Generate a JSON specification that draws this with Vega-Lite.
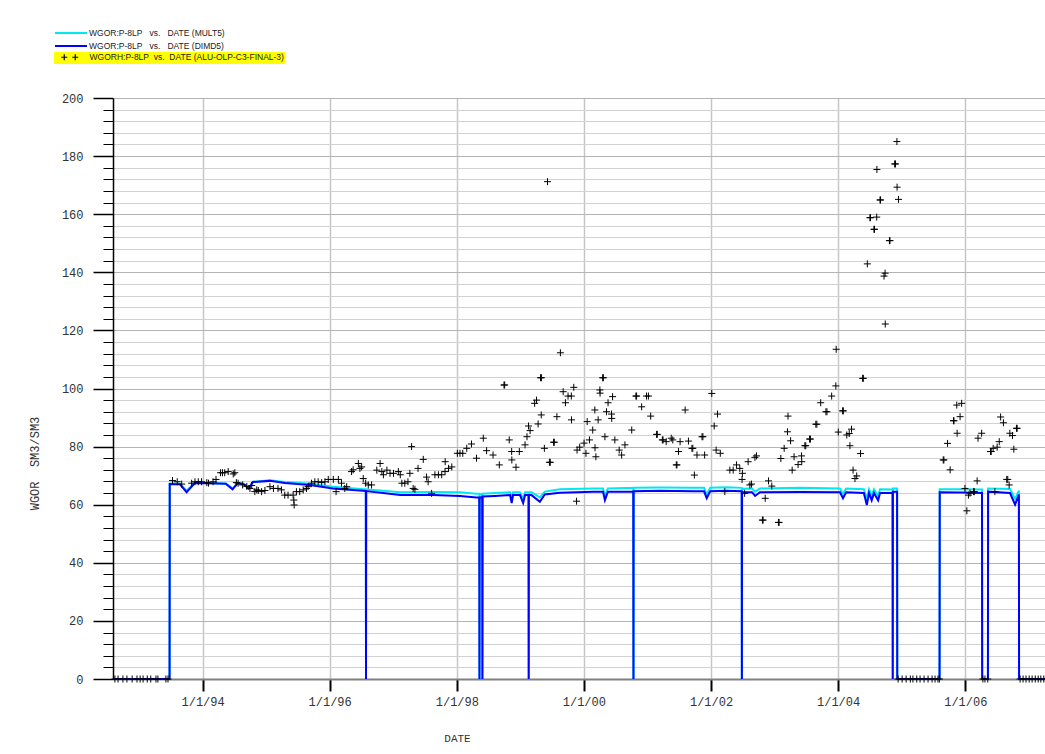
{
"$schema": "https://vega.github.io/schema/vega-lite/v6.json",
"autosize": "none",
"width": 932,
"height": 581,
"padding": {"left": 113, "top": 98, "right": 0, "bottom": 75},
"background": "white",
"config": {"view": {"stroke": null}, "font": "Liberation Sans"},
"datasets": {
"lines": [
{"date":"1992-08-04","series":"MULT5","value":0},{"date":"1993-06-25","series":"MULT5","value":0},{"date":"1993-06-26","series":"MULT5","value":67.3},{"date":"1993-08-24","series":"MULT5","value":67.2},{"date":"1993-10-01","series":"MULT5","value":64.8},{"date":"1993-11-18","series":"MULT5","value":67.6},{"date":"1994-05-14","series":"MULT5","value":67.3},{"date":"1994-06-22","series":"MULT5","value":65.6},{"date":"1994-07-22","series":"MULT5","value":67.5},{"date":"1994-08-26","series":"MULT5","value":67.2},{"date":"1994-09-23","series":"MULT5","value":65.8},{"date":"1994-10-17","series":"MULT5","value":67.9},{"date":"1995-01-23","series":"MULT5","value":68.4},{"date":"1995-04-18","series":"MULT5","value":67.8},{"date":"1995-09-10","series":"MULT5","value":67.2},{"date":"1996-01-20","series":"MULT5","value":66.2},{"date":"1996-07-27","series":"MULT5","value":65.3},{"date":"1996-07-28","series":"MULT5","value":0},{"date":"1996-07-29","series":"MULT5","value":65.3},{"date":"1997-02-10","series":"MULT5","value":64.3},{"date":"1997-08-17","series":"MULT5","value":64.4},{"date":"1998-01-20","series":"MULT5","value":64.3},{"date":"1998-04-24","series":"MULT5","value":63.8},{"date":"1998-05-10","series":"MULT5","value":63.8},{"date":"1998-05-11","series":"MULT5","value":0},{"date":"1998-05-12","series":"MULT5","value":63.6},{"date":"1998-05-27","series":"MULT5","value":63.6},{"date":"1998-05-28","series":"MULT5","value":0},{"date":"1998-05-29","series":"MULT5","value":63.8},{"date":"1998-08-08","series":"MULT5","value":64.0},{"date":"1998-11-03","series":"MULT5","value":64.3},{"date":"1998-11-12","series":"MULT5","value":62.0},{"date":"1998-11-20","series":"MULT5","value":64.3},{"date":"1998-12-30","series":"MULT5","value":64.3},{"date":"1999-01-17","series":"MULT5","value":62.0},{"date":"1999-01-28","series":"MULT5","value":64.3},{"date":"1999-02-17","series":"MULT5","value":64.3},{"date":"1999-02-18","series":"MULT5","value":0},{"date":"1999-02-19","series":"MULT5","value":64.3},{"date":"1999-03-06","series":"MULT5","value":64.3},{"date":"1999-04-23","series":"MULT5","value":62.5},{"date":"1999-05-21","series":"MULT5","value":64.5},{"date":"1999-08-16","series":"MULT5","value":65.3},{"date":"2000-02-23","series":"MULT5","value":65.6},{"date":"2000-04-20","series":"MULT5","value":65.6},{"date":"2000-05-01","series":"MULT5","value":63.0},{"date":"2000-05-18","series":"MULT5","value":65.6},{"date":"2000-10-11","series":"MULT5","value":65.8},{"date":"2000-10-12","series":"MULT5","value":0},{"date":"2000-10-13","series":"MULT5","value":65.8},{"date":"2001-03-13","series":"MULT5","value":65.9},{"date":"2001-09-20","series":"MULT5","value":65.8},{"date":"2001-11-22","series":"MULT5","value":65.8},{"date":"2001-12-07","series":"MULT5","value":63.5},{"date":"2001-12-27","series":"MULT5","value":65.8},{"date":"2002-03-30","series":"MULT5","value":66.0},{"date":"2002-06-26","series":"MULT5","value":65.8},{"date":"2002-06-27","series":"MULT5","value":0},{"date":"2002-06-28","series":"MULT5","value":65.5},{"date":"2002-08-24","series":"MULT5","value":65.6},{"date":"2002-09-11","series":"MULT5","value":64.5},{"date":"2002-10-09","series":"MULT5","value":65.6},{"date":"2003-05-26","series":"MULT5","value":65.8},{"date":"2004-01-12","series":"MULT5","value":65.6},{"date":"2004-01-29","series":"MULT5","value":63.8},{"date":"2004-02-16","series":"MULT5","value":65.6},{"date":"2004-05-28","series":"MULT5","value":65.3},{"date":"2004-06-14","series":"MULT5","value":62.0},{"date":"2004-06-27","series":"MULT5","value":65.3},{"date":"2004-07-12","series":"MULT5","value":63.0},{"date":"2004-07-25","series":"MULT5","value":65.3},{"date":"2004-08-18","series":"MULT5","value":63.0},{"date":"2004-08-29","series":"MULT5","value":65.3},{"date":"2004-11-09","series":"MULT5","value":65.2},{"date":"2004-11-10","series":"MULT5","value":0},{"date":"2004-11-11","series":"MULT5","value":65.6},{"date":"2004-12-05","series":"MULT5","value":65.6},{"date":"2004-12-06","series":"MULT5","value":0},{"date":"2005-08-06","series":"MULT5","value":0},{"date":"2005-08-07","series":"MULT5","value":65.3},{"date":"2005-12-02","series":"MULT5","value":65.3},{"date":"2006-04-07","series":"MULT5","value":65.2},{"date":"2006-04-08","series":"MULT5","value":0},{"date":"2006-05-11","series":"MULT5","value":0},{"date":"2006-05-12","series":"MULT5","value":65.6},{"date":"2006-09-15","series":"MULT5","value":65.4},{"date":"2006-10-14","series":"MULT5","value":62.0},{"date":"2006-11-05","series":"MULT5","value":64.8},{"date":"2006-11-06","series":"MULT5","value":0},{"date":"2007-04-04","series":"MULT5","value":0},
{"date":"1992-08-04","series":"DIMD5","value":0},{"date":"1993-06-25","series":"DIMD5","value":0},{"date":"1993-06-26","series":"DIMD5","value":67.1},{"date":"1993-08-24","series":"DIMD5","value":67.0},{"date":"1993-10-01","series":"DIMD5","value":64.3},{"date":"1993-11-18","series":"DIMD5","value":67.5},{"date":"1994-05-14","series":"DIMD5","value":67.2},{"date":"1994-06-22","series":"DIMD5","value":65.3},{"date":"1994-07-22","series":"DIMD5","value":67.4},{"date":"1994-08-26","series":"DIMD5","value":67.0},{"date":"1994-09-23","series":"DIMD5","value":65.5},{"date":"1994-10-17","series":"DIMD5","value":67.8},{"date":"1995-01-23","series":"DIMD5","value":68.2},{"date":"1995-04-18","series":"DIMD5","value":67.5},{"date":"1995-09-10","series":"DIMD5","value":66.8},{"date":"1996-01-20","series":"DIMD5","value":65.6},{"date":"1996-07-27","series":"DIMD5","value":64.7},{"date":"1996-07-28","series":"DIMD5","value":0},{"date":"1996-07-29","series":"DIMD5","value":64.7},{"date":"1997-02-10","series":"DIMD5","value":63.3},{"date":"1997-08-17","series":"DIMD5","value":63.3},{"date":"1998-01-20","series":"DIMD5","value":63.0},{"date":"1998-04-24","series":"DIMD5","value":62.5},{"date":"1998-05-10","series":"DIMD5","value":62.5},{"date":"1998-05-11","series":"DIMD5","value":0},{"date":"1998-05-12","series":"DIMD5","value":62.5},{"date":"1998-05-27","series":"DIMD5","value":62.6},{"date":"1998-05-28","series":"DIMD5","value":0},{"date":"1998-05-29","series":"DIMD5","value":62.8},{"date":"1998-08-08","series":"DIMD5","value":63.0},{"date":"1998-11-03","series":"DIMD5","value":63.3},{"date":"1998-11-12","series":"DIMD5","value":60.6},{"date":"1998-11-20","series":"DIMD5","value":63.3},{"date":"1998-12-30","series":"DIMD5","value":63.3},{"date":"1999-01-17","series":"DIMD5","value":60.6},{"date":"1999-01-28","series":"DIMD5","value":63.3},{"date":"1999-02-17","series":"DIMD5","value":63.3},{"date":"1999-02-18","series":"DIMD5","value":0},{"date":"1999-02-19","series":"DIMD5","value":63.3},{"date":"1999-03-06","series":"DIMD5","value":63.3},{"date":"1999-04-23","series":"DIMD5","value":61.0},{"date":"1999-05-21","series":"DIMD5","value":63.5},{"date":"1999-08-16","series":"DIMD5","value":64.1},{"date":"2000-02-23","series":"DIMD5","value":64.5},{"date":"2000-04-20","series":"DIMD5","value":64.5},{"date":"2000-05-01","series":"DIMD5","value":61.6},{"date":"2000-05-18","series":"DIMD5","value":64.5},{"date":"2000-10-11","series":"DIMD5","value":64.5},{"date":"2000-10-12","series":"DIMD5","value":0},{"date":"2000-10-13","series":"DIMD5","value":64.6},{"date":"2001-03-13","series":"DIMD5","value":64.8},{"date":"2001-09-20","series":"DIMD5","value":64.6},{"date":"2001-11-22","series":"DIMD5","value":64.6},{"date":"2001-12-07","series":"DIMD5","value":62.2},{"date":"2001-12-27","series":"DIMD5","value":64.6},{"date":"2002-03-30","series":"DIMD5","value":64.8},{"date":"2002-06-26","series":"DIMD5","value":64.6},{"date":"2002-06-27","series":"DIMD5","value":0},{"date":"2002-06-28","series":"DIMD5","value":64.3},{"date":"2002-08-24","series":"DIMD5","value":64.3},{"date":"2002-09-11","series":"DIMD5","value":63.0},{"date":"2002-10-09","series":"DIMD5","value":64.3},{"date":"2003-05-26","series":"DIMD5","value":64.4},{"date":"2004-01-12","series":"DIMD5","value":64.3},{"date":"2004-01-29","series":"DIMD5","value":62.2},{"date":"2004-02-16","series":"DIMD5","value":64.3},{"date":"2004-05-28","series":"DIMD5","value":64.0},{"date":"2004-06-14","series":"DIMD5","value":59.9},{"date":"2004-06-27","series":"DIMD5","value":64.0},{"date":"2004-07-12","series":"DIMD5","value":61.5},{"date":"2004-07-25","series":"DIMD5","value":64.0},{"date":"2004-08-18","series":"DIMD5","value":61.5},{"date":"2004-08-29","series":"DIMD5","value":64.0},{"date":"2004-11-09","series":"DIMD5","value":64.0},{"date":"2004-11-10","series":"DIMD5","value":0},{"date":"2004-11-11","series":"DIMD5","value":64.5},{"date":"2004-12-05","series":"DIMD5","value":64.5},{"date":"2004-12-06","series":"DIMD5","value":0},{"date":"2005-08-06","series":"DIMD5","value":0},{"date":"2005-08-07","series":"DIMD5","value":64.3},{"date":"2005-12-02","series":"DIMD5","value":64.2},{"date":"2006-04-07","series":"DIMD5","value":64.0},{"date":"2006-04-08","series":"DIMD5","value":0},{"date":"2006-05-11","series":"DIMD5","value":0},{"date":"2006-05-12","series":"DIMD5","value":64.5},{"date":"2006-09-15","series":"DIMD5","value":64.0},{"date":"2006-10-14","series":"DIMD5","value":60.0},{"date":"2006-11-05","series":"DIMD5","value":63.5},{"date":"2006-11-06","series":"DIMD5","value":0},{"date":"2007-04-04","series":"DIMD5","value":0}
],
"hist": [
{"date":"1992-08-15","value":0},{"date":"1992-09-02","value":0},{"date":"1992-09-30","value":0},{"date":"1992-10-23","value":0},{"date":"1992-11-22","value":0},{"date":"1992-12-20","value":0},{"date":"1993-01-07","value":0},{"date":"1993-01-24","value":0},{"date":"1993-02-17","value":0},{"date":"1993-03-09","value":0},{"date":"1993-04-08","value":0},{"date":"1993-04-19","value":0},{"date":"1993-06-04","value":0},{"date":"1993-06-16","value":0},
{"date":"1993-07-12","value":68.3},{"date":"1993-08-08","value":67.9},{"date":"1993-09-03","value":67.1},{"date":"1993-10-30","value":67.4},{"date":"1993-11-18","value":67.9},{"date":"1993-12-07","value":67.9},{"date":"1993-12-26","value":67.9},
{"date":"1994-01-25","value":67.6},{"date":"1994-02-04","value":67.4},{"date":"1994-03-02","value":67.9},{"date":"1994-03-19","value":68.7},{"date":"1994-04-14","value":71.0},{"date":"1994-04-25","value":71.0},{"date":"1994-05-08","value":71.0},{"date":"1994-05-28","value":71.4},{"date":"1994-06-26","value":70.6},{"date":"1994-07-05","value":71.0},{"date":"1994-07-14","value":67.6},{"date":"1994-07-24","value":67.4},{"date":"1994-08-19","value":66.8},{"date":"1994-09-12","value":66.3},{"date":"1994-09-30","value":65.6},{"date":"1994-10-10","value":66.6},{"date":"1994-10-28","value":64.5},{"date":"1994-11-08","value":65.1},{"date":"1994-11-17","value":64.9},{"date":"1994-12-06","value":64.5},{"date":"1994-12-25","value":64.9},
{"date":"1995-01-23","value":66.2},{"date":"1995-02-12","value":65.6},{"date":"1995-03-10","value":65.6},{"date":"1995-03-30","value":65.1},{"date":"1995-04-18","value":63.3},{"date":"1995-05-07","value":63.3},{"date":"1995-06-05","value":63.3},{"date":"1995-06-09","value":61.6},{"date":"1995-06-11","value":59.9},{"date":"1995-06-24","value":64.5},{"date":"1995-07-13","value":64.5},{"date":"1995-08-02","value":65.1},{"date":"1995-08-21","value":65.6},{"date":"1995-08-30","value":66.2},{"date":"1995-09-19","value":67.4},{"date":"1995-10-08","value":67.9},{"date":"1995-10-27","value":67.9},{"date":"1995-11-16","value":67.6},{"date":"1995-12-05","value":67.9},{"date":"1995-12-24","value":68.7},
{"date":"1996-01-22","value":68.7},{"date":"1996-02-07","value":64.5},{"date":"1996-02-20","value":68.7},{"date":"1996-03-09","value":67.4},{"date":"1996-03-28","value":65.6},{"date":"1996-04-08","value":66.2},{"date":"1996-05-06","value":71.4},{"date":"1996-05-15","value":72.0},{"date":"1996-06-14","value":74.2},{"date":"1996-06-23","value":72.5},{"date":"1996-07-03","value":73.0},{"date":"1996-07-12","value":69.0},{"date":"1996-07-26","value":67.4},{"date":"1996-08-10","value":66.8},{"date":"1996-08-29","value":66.8},{"date":"1996-09-28","value":71.9},{"date":"1996-10-17","value":74.2},{"date":"1996-10-27","value":71.4},{"date":"1996-11-05","value":70.3},{"date":"1996-11-25","value":71.9},{"date":"1996-12-13","value":70.8},
{"date":"1997-01-02","value":70.8},{"date":"1997-01-30","value":71.4},{"date":"1997-02-10","value":70.3},{"date":"1997-02-19","value":67.4},{"date":"1997-03-08","value":67.4},{"date":"1997-03-26","value":67.9},{"date":"1997-04-06","value":70.8},{"date":"1997-04-16","value":80.0},{"date":"1997-04-25","value":65.6},{"date":"1997-05-05","value":65.3},{"date":"1997-05-23","value":72.5},{"date":"1997-06-22","value":75.6},{"date":"1997-07-11","value":69.5},{"date":"1997-07-20","value":67.9},{"date":"1997-08-09","value":63.9},{"date":"1997-08-28","value":70.3},{"date":"1997-09-17","value":70.3},{"date":"1997-10-06","value":70.3},{"date":"1997-10-25","value":71.4},{"date":"1997-10-26","value":74.8},{"date":"1997-11-14","value":72.5},{"date":"1997-12-03","value":73.0},
{"date":"1998-01-04","value":77.7},{"date":"1998-01-19","value":77.7},{"date":"1998-02-04","value":77.7},{"date":"1998-02-27","value":79.4},{"date":"1998-03-26","value":80.9},{"date":"1998-04-24","value":76.0},{"date":"1998-06-02","value":82.9},{"date":"1998-06-21","value":78.6},{"date":"1998-07-28","value":77.1},{"date":"1998-09-02","value":73.7},{"date":"1998-09-29","value":101.2},{"date":"1998-10-03","value":101.2},{"date":"1998-10-29","value":82.3},{"date":"1998-11-12","value":78.3},{"date":"1998-11-13","value":75.4},{"date":"1998-12-07","value":72.9},{"date":"1998-12-26","value":78.3},
{"date":"1999-01-28","value":80.6},{"date":"1999-02-08","value":83.4},{"date":"1999-02-17","value":87.1},{"date":"1999-02-26","value":85.5},{"date":"1999-03-24","value":94.9},{"date":"1999-04-04","value":96.0},{"date":"1999-04-13","value":87.8},{"date":"1999-04-27","value":103.7},{"date":"1999-05-02","value":103.7},{"date":"1999-05-01","value":90.9},{"date":"1999-05-19","value":79.4},{"date":"1999-06-06","value":171.2},{"date":"1999-06-17","value":74.6},{"date":"1999-06-22","value":74.6},{"date":"1999-07-11","value":81.5},{"date":"1999-07-15","value":81.5},{"date":"1999-07-30","value":90.3},{"date":"1999-08-19","value":112.3},{"date":"1999-09-04","value":98.9},{"date":"1999-09-17","value":95.1},{"date":"1999-10-02","value":97.4},{"date":"1999-10-21","value":97.4},{"date":"1999-10-22","value":89.2},{"date":"1999-11-04","value":100.4},{"date":"1999-11-23","value":78.8},{"date":"1999-12-08","value":79.8},{"date":"1999-11-20","value":61.2},
{"date":"2000-01-02","value":81.2},{"date":"2000-01-13","value":77.7},{"date":"2000-01-20","value":88.6},{"date":"2000-02-02","value":82.3},{"date":"2000-02-21","value":85.7},{"date":"2000-03-04","value":92.6},{"date":"2000-03-05","value":79.6},{"date":"2000-03-10","value":76.5},{"date":"2000-03-23","value":89.2},{"date":"2000-04-02","value":99.5},{"date":"2000-04-03","value":98.4},{"date":"2000-04-18","value":103.7},{"date":"2000-04-22","value":103.7},{"date":"2000-05-01","value":83.4},{"date":"2000-05-10","value":92.0},{"date":"2000-05-19","value":95.1},{"date":"2000-06-08","value":91.2},{"date":"2000-06-09","value":89.7},{"date":"2000-06-14","value":97.2},{"date":"2000-06-27","value":82.3},{"date":"2000-07-22","value":78.8},{"date":"2000-08-05","value":77.1},{"date":"2000-08-24","value":80.6},{"date":"2000-10-02","value":85.7},{"date":"2000-10-26","value":97.4},{"date":"2000-10-30","value":97.4},{"date":"2000-11-28","value":93.7},{"date":"2000-12-26","value":97.4},
{"date":"2001-01-06","value":97.4},{"date":"2001-01-19","value":90.5},{"date":"2001-02-22","value":84.2},{"date":"2001-02-26","value":84.2},{"date":"2001-03-27","value":82.3},{"date":"2001-03-31","value":82.3},{"date":"2001-04-18","value":81.7},{"date":"2001-05-17","value":82.9},{"date":"2001-05-26","value":82.3},{"date":"2001-06-15","value":73.7},{"date":"2001-06-19","value":73.7},{"date":"2001-06-28","value":78.3},{"date":"2001-07-07","value":81.7},{"date":"2001-08-05","value":92.6},{"date":"2001-08-24","value":81.9},{"date":"2001-09-13","value":79.4},{"date":"2001-09-18","value":79.4},{"date":"2001-09-27","value":70.2},{"date":"2001-10-12","value":77.1},{"date":"2001-11-10","value":83.4},{"date":"2001-11-15","value":83.4},{"date":"2001-11-25","value":77.1},
{"date":"2002-01-05","value":98.3},{"date":"2002-01-19","value":87.1},{"date":"2002-01-30","value":78.8},{"date":"2002-02-07","value":91.2},{"date":"2002-02-23","value":77.7},{"date":"2002-03-21","value":64.5},{"date":"2002-04-19","value":71.9},{"date":"2002-05-08","value":71.9},{"date":"2002-05-27","value":73.7},{"date":"2002-06-15","value":72.5},{"date":"2002-06-30","value":70.8},{"date":"2002-06-28","value":68.7},{"date":"2002-07-13","value":63.9},{"date":"2002-08-02","value":74.8},{"date":"2002-08-12","value":66.8},{"date":"2002-08-21","value":67.1},{"date":"2002-09-10","value":76.3},{"date":"2002-09-19","value":76.8},{"date":"2002-10-23","value":54.7},{"date":"2002-10-27","value":54.7},{"date":"2002-11-08","value":62.2},{"date":"2002-11-27","value":68.2},{"date":"2002-12-16","value":66.4},
{"date":"2003-01-23","value":53.9},{"date":"2003-01-27","value":53.9},{"date":"2003-02-06","value":75.9},{"date":"2003-02-25","value":79.4},{"date":"2003-03-16","value":85.1},{"date":"2003-03-19","value":90.5},{"date":"2003-04-03","value":82.0},{"date":"2003-04-12","value":71.9},{"date":"2003-04-23","value":76.5},{"date":"2003-05-16","value":73.8},{"date":"2003-06-05","value":76.8},{"date":"2003-06-06","value":74.8},{"date":"2003-06-24","value":80.3},{"date":"2003-06-29","value":80.3},{"date":"2003-07-21","value":82.6},{"date":"2003-07-26","value":82.6},{"date":"2003-08-26","value":87.7},{"date":"2003-09-01","value":87.7},{"date":"2003-09-23","value":95.1},{"date":"2003-10-23","value":92.0},{"date":"2003-10-29","value":92.0},{"date":"2003-11-25","value":97.4},{"date":"2003-12-19","value":100.9},{"date":"2003-12-21","value":113.5},
{"date":"2004-01-02","value":85.0},{"date":"2004-01-27","value":92.3},{"date":"2004-01-31","value":92.3},{"date":"2004-02-20","value":84.0},{"date":"2004-03-05","value":84.5},{"date":"2004-03-09","value":80.3},{"date":"2004-03-18","value":86.0},{"date":"2004-03-27","value":71.9},{"date":"2004-04-07","value":69.0},{"date":"2004-04-17","value":69.9},{"date":"2004-05-09","value":77.6},{"date":"2004-05-21","value":103.5},{"date":"2004-05-25","value":103.5},{"date":"2004-06-17","value":142.9},{"date":"2004-07-02","value":158.8},{"date":"2004-07-05","value":158.8},{"date":"2004-07-25","value":154.8},{"date":"2004-07-28","value":154.8},{"date":"2004-08-10","value":159.0},{"date":"2004-08-11","value":175.4},{"date":"2004-08-29","value":164.9},{"date":"2004-09-01","value":164.9},{"date":"2004-09-21","value":138.7},{"date":"2004-09-27","value":139.7},{"date":"2004-09-28","value":122.2},{"date":"2004-10-22","value":150.9},{"date":"2004-10-25","value":150.9},{"date":"2004-11-21","value":177.3},{"date":"2004-11-26","value":177.3},{"date":"2004-12-04","value":185.0},{"date":"2004-12-05","value":169.3},{"date":"2004-12-13","value":165.1},
{"date":"2004-12-11","value":0},{"date":"2005-01-03","value":0},{"date":"2005-01-26","value":0},{"date":"2005-02-19","value":0},{"date":"2005-03-06","value":0},{"date":"2005-03-28","value":0},{"date":"2005-04-16","value":0},{"date":"2005-05-09","value":0},{"date":"2005-06-01","value":0},{"date":"2005-06-24","value":0},{"date":"2005-07-11","value":0},{"date":"2005-07-28","value":0},{"date":"2005-08-05","value":0},
{"date":"2005-08-27","value":75.4},{"date":"2005-08-31","value":75.4},{"date":"2005-09-21","value":81.1},{"date":"2005-10-06","value":72.0},{"date":"2005-10-25","value":88.9},{"date":"2005-10-28","value":88.9},{"date":"2005-11-13","value":94.3},{"date":"2005-11-15","value":84.6},{"date":"2005-12-02","value":90.3},{"date":"2005-12-11","value":94.9},{"date":"2005-12-30","value":65.6},
{"date":"2006-01-10","value":57.9},{"date":"2006-01-19","value":63.3},{"date":"2006-01-28","value":64.0},{"date":"2006-02-17","value":64.5},{"date":"2006-02-22","value":64.5},{"date":"2006-03-10","value":68.2},{"date":"2006-03-15","value":82.9},{"date":"2006-04-05","value":84.6},{"date":"2006-04-12","value":0},{"date":"2006-04-24","value":0},{"date":"2006-05-10","value":0},{"date":"2006-05-26","value":78.3},{"date":"2006-05-30","value":78.3},{"date":"2006-06-10","value":79.4},{"date":"2006-06-20","value":64.5},{"date":"2006-07-03","value":79.8},{"date":"2006-07-15","value":81.7},{"date":"2006-07-23","value":90.2},{"date":"2006-08-08","value":88.2},{"date":"2006-08-27","value":68.7},{"date":"2006-09-02","value":68.7},{"date":"2006-09-10","value":66.8},{"date":"2006-09-14","value":84.6},{"date":"2006-09-29","value":83.8},{"date":"2006-10-07","value":79.1},{"date":"2006-10-22","value":86.3},{"date":"2006-10-26","value":86.3},
{"date":"2006-11-12","value":0},{"date":"2006-11-29","value":0},{"date":"2006-12-16","value":0},{"date":"2007-01-03","value":0},{"date":"2007-01-20","value":0},{"date":"2007-02-07","value":0},{"date":"2007-02-24","value":0},{"date":"2007-03-11","value":0},{"date":"2007-03-28","value":0}
]
},
"encoding": {
"x": {"field": "date", "type": "temporal",
 "scale": {"type": "utc", "nice": false, "domain": [{"year": 1992, "month": 8, "date": 4, "utc": true}, {"year": 2007, "month": 4, "date": 4, "utc": true}]},
 "axis": {"values": [{"year":1994,"month":1,"date":1,"utc":true},{"year":1996,"month":1,"date":1,"utc":true},{"year":1998,"month":1,"date":1,"utc":true},{"year":2000,"month":1,"date":1,"utc":true},{"year":2002,"month":1,"date":1,"utc":true},{"year":2004,"month":1,"date":1,"utc":true},{"year":2006,"month":1,"date":1,"utc":true}],
  "format": "%-m/%-d/%y", "labelFont": "Liberation Mono", "labelFontSize": 12, "labelColor": "#333333", "labelPadding": 5, "labelFlush": false, "labelOverlap": false,
  "tickSize": 12, "tickWidth": 2, "tickColor": "#000000",
  "domainColor": "#808080", "domainWidth": 2,
  "grid": true, "gridColor": "#c6c6c6", "gridWidth": 1.5,
  "title": "DATE", "titleFont": "Liberation Mono", "titleFontSize": 11, "titleFontWeight": "normal", "titleColor": "#333333", "titleX": 344, "titleY": 59, "titleAlign": "center", "titleBaseline": "middle"}},
"y": {"field": "value", "type": "quantitative",
 "scale": {"domain": [0, 200], "nice": false},
 "axis": {"values": [0,4,8,12,16,20,24,28,32,36,40,44,48,52,56,60,64,68,72,76,80,84,88,92,96,100,104,108,112,116,120,124,128,132,136,140,144,148,152,156,160,164,168,172,176,180,184,188,192,196,200],
  "labelExpr": "datum.value % 20 === 0 ? datum.label : ''",
  "tickSize": {"condition": {"test": "datum.value % 20 === 0", "value": 20}, "value": 10},
  "tickWidth": {"condition": {"test": "datum.value % 20 === 0", "value": 1.5}, "value": 1},
  "tickColor": "#000000",
  "labelPadding": 10, "labelFont": "Liberation Mono", "labelFontSize": 12, "labelColor": "#333333", "labelOverlap": false, "labelFlush": false,
  "domainColor": "#000000", "domainWidth": 1.5,
  "grid": true, "gridWidth": 1,
  "gridColor": {"condition": {"test": "datum.value % 20 === 0", "value": "#b4b4b4"}, "value": "#d2d2d2"},
  "title": "WGOR\u00a0\u00a0SM3/SM3", "titleFont": "Liberation Mono", "titleFontSize": 12, "titleFontWeight": "normal", "titleColor": "#333333",
  "titleX": -79, "titleY": 365, "titleAngle": 270, "titleAlign": "center", "titleBaseline": "middle"}}
},
"layer": [
{"data": {"name": "lines"}, "transform": [{"filter": "datum.series === 'MULT5'"}],
 "mark": {"type": "line", "strokeWidth": 2, "interpolate": "linear"},
 "encoding": {"color": {"field": "series", "type": "nominal",
  "scale": {"domain": ["MULT5", "DIMD5"], "range": ["#00e8f0", "#0000ff"]},
  "legend": {"title": null, "orient": "none", "legendX": -59, "legendY": -70, "padding": 0,
   "labelFont": "Liberation Sans", "labelFontSize": 8.5, "labelColor": "#222222", "labelOffset": 25, "labelLimit": 0,
   "symbolType": "M-1,0H7", "symbolSize": 64, "symbolStrokeWidth": 2, "rowPadding": 3,
   "labelExpr": "datum.label === 'MULT5' ? 'WGOR:P-8LP\u00a0\u00a0\u00a0vs.\u00a0\u00a0\u00a0DATE (MULT5)' : 'WGOR:P-8LP\u00a0\u00a0\u00a0vs.\u00a0\u00a0\u00a0DATE (DIMD5)'"}}}},
{"data": {"name": "lines"}, "transform": [{"filter": "datum.series === 'DIMD5'"}],
 "mark": {"type": "line", "strokeWidth": 2, "interpolate": "linear"},
 "encoding": {"color": {"field": "series", "type": "nominal",
  "scale": {"domain": ["MULT5", "DIMD5"], "range": ["#00e8f0", "#0000ff"]}}}},
{"data": {"name": "hist"},
 "mark": {"type": "point", "shape": "M-1,0H1M0,-1V1", "size": 49, "filled": false, "color": "#000000", "strokeWidth": 1, "opacity": 1},
 "encoding": {"opacity": {"datum": "H", "type": "nominal", "scale": {"domain": ["H"], "range": [1, 1]},
  "legend": {"title": null, "orient": "none", "legendX": -59, "legendY": -46, "padding": 1, "fillColor": "#ffff00",
   "labelFont": "Liberation Sans", "labelFontSize": 8.5, "labelColor": "#222222", "labelOffset": 26, "labelLimit": 0,
   "symbolType": "M0.667,0H2.667M1.667,-1V1M4.333,0H6.333M5.333,-1V1", "symbolSize": 36, "symbolStrokeColor": "#000000", "symbolStrokeWidth": 1.2, "symbolFillColor": "transparent",
   "labelExpr": "'WGORH:P-8LP\u00a0\u00a0vs.\u00a0\u00a0DATE (ALU-OLP-C3-FINAL-3)'"}}}}
]
}
